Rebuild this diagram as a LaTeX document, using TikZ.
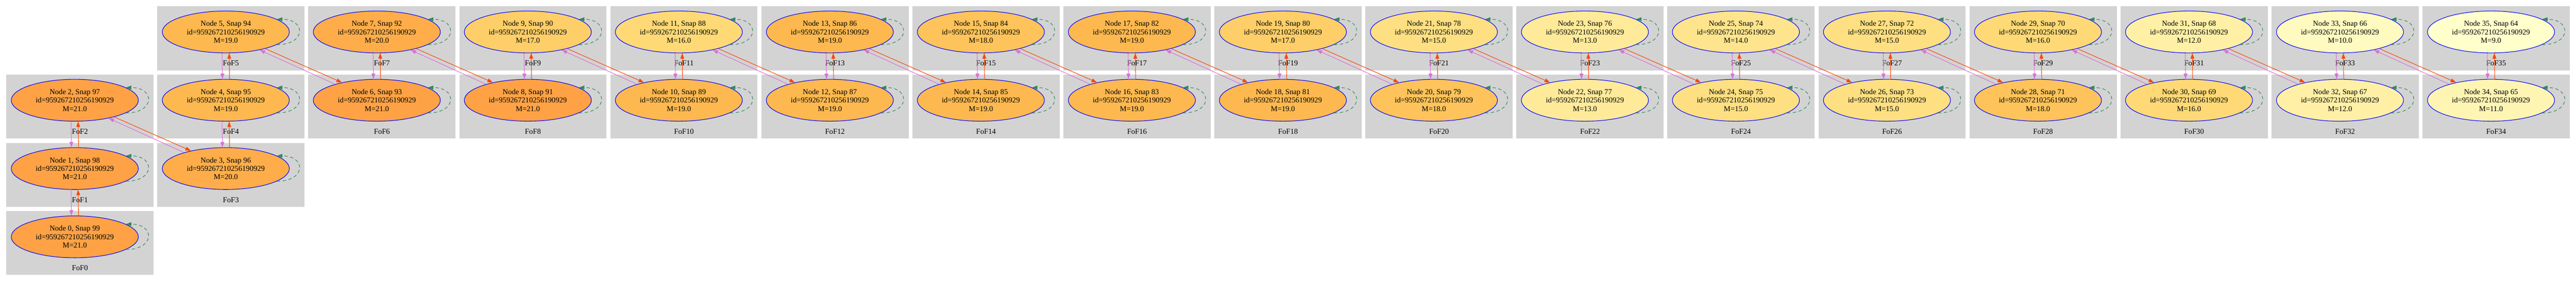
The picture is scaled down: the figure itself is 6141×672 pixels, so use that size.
\documentclass[tikz,border=0pt]{standalone}
\usepackage{fontspec}
\setmainfont{Liberation Serif}
\usetikzlibrary{arrows.meta,shapes.geometric}
\definecolor{fofgrey}{HTML}{D3D3D3}
\definecolor{fwdred}{HTML}{FF4500}
\definecolor{backviolet}{HTML}{DA70D6}
\definecolor{loopgreen}{HTML}{2E8B57}
\definecolor{m9}{HTML}{FFFFCC}
\definecolor{m10}{HTML}{FFFABF}
\definecolor{m11}{HTML}{FFF5B3}
\definecolor{m12}{HTML}{FFF0A6}
\definecolor{m13}{HTML}{FFEA9A}
\definecolor{m14}{HTML}{FFE48E}
\definecolor{m15}{HTML}{FEDF82}
\definecolor{m16}{HTML}{FED976}
\definecolor{m17}{HTML}{FECE68}
\definecolor{m18}{HTML}{FEC35A}
\definecolor{m19}{HTML}{FEB850}
\definecolor{m20}{HTML}{FEAD4A}
\definecolor{m21}{HTML}{FEA245}

\begin{document}
\begin{tikzpicture}[x=1pt,y=1pt,
    fofbox/.style={fill=fofgrey},
    foflabel/.style={inner sep=0pt,font=\fontsize{18}{20}\selectfont},
    fofnode/.style={ellipse,draw=blue,line width=1.3pt,minimum width=303pt,minimum height=100pt,inner sep=0pt,align=center,font=\fontsize{18}{20}\selectfont},
    fwd/.style={draw=fwdred,line width=1.3pt,-{Triangle[length=13pt,width=9pt]}},
    back/.style={draw=backviolet,line width=1.3pt,-{Triangle[length=13pt,width=9pt]}},
    selfloop/.style={draw=loopgreen,line width=1.3pt,dash pattern=on 8pt off 6pt,-{Triangle[length=13pt,width=9pt]}}]
      \useasboundingbox (0,0) rectangle (6141,672);
      \fill[fofbox] (15,16) rectangle (366,168);
      \fill[fofbox] (15,178) rectangle (366,331);
      \fill[fofbox] (15,341) rectangle (366,494);
      \fill[fofbox] (375,178) rectangle (726,331);
      \fill[fofbox] (375,341) rectangle (726,494);
      \fill[fofbox] (375,504) rectangle (726,657);
      \fill[fofbox] (735,341) rectangle (1086,494);
      \fill[fofbox] (735,504) rectangle (1086,657);
      \fill[fofbox] (1095,341) rectangle (1446,494);
      \fill[fofbox] (1095,504) rectangle (1446,657);
      \fill[fofbox] (1455,341) rectangle (1806,494);
      \fill[fofbox] (1455,504) rectangle (1806,657);
      \fill[fofbox] (1815,341) rectangle (2166,494);
      \fill[fofbox] (1815,504) rectangle (2166,657);
      \fill[fofbox] (2175,341) rectangle (2526,494);
      \fill[fofbox] (2175,504) rectangle (2526,657);
      \fill[fofbox] (2535,341) rectangle (2886,494);
      \fill[fofbox] (2535,504) rectangle (2886,657);
      \fill[fofbox] (2895,341) rectangle (3246,494);
      \fill[fofbox] (2895,504) rectangle (3246,657);
      \fill[fofbox] (3255,341) rectangle (3606,494);
      \fill[fofbox] (3255,504) rectangle (3606,657);
      \fill[fofbox] (3615,341) rectangle (3966,494);
      \fill[fofbox] (3615,504) rectangle (3966,657);
      \fill[fofbox] (3975,341) rectangle (4326,494);
      \fill[fofbox] (3975,504) rectangle (4326,657);
      \fill[fofbox] (4335,341) rectangle (4686,494);
      \fill[fofbox] (4335,504) rectangle (4686,657);
      \fill[fofbox] (4695,341) rectangle (5046,494);
      \fill[fofbox] (4695,504) rectangle (5046,657);
      \fill[fofbox] (5055,341) rectangle (5406,494);
      \fill[fofbox] (5055,504) rectangle (5406,657);
      \fill[fofbox] (5415,341) rectangle (5766,494);
      \fill[fofbox] (5415,504) rectangle (5766,657);
      \fill[fofbox] (5775,341) rectangle (6126,494);
      \fill[fofbox] (5775,504) rectangle (6126,657);
      \node[foflabel] (l0) at (190.5,33) {FoF0};
      \node[foflabel] (l1) at (190.5,195) {FoF1};
      \node[foflabel] (l2) at (190.5,358) {FoF2};
      \node[foflabel] (l3) at (550.5,195) {FoF3};
      \node[foflabel] (l4) at (550.5,358) {FoF4};
      \node[foflabel] (l5) at (550.5,521) {FoF5};
      \node[foflabel] (l6) at (910.5,358) {FoF6};
      \node[foflabel] (l7) at (910.5,521) {FoF7};
      \node[foflabel] (l8) at (1270.5,358) {FoF8};
      \node[foflabel] (l9) at (1270.5,521) {FoF9};
      \node[foflabel] (l10) at (1630.5,358) {FoF10};
      \node[foflabel] (l11) at (1630.5,521) {FoF11};
      \node[foflabel] (l12) at (1990.5,358) {FoF12};
      \node[foflabel] (l13) at (1990.5,521) {FoF13};
      \node[foflabel] (l14) at (2350.5,358) {FoF14};
      \node[foflabel] (l15) at (2350.5,521) {FoF15};
      \node[foflabel] (l16) at (2710.5,358) {FoF16};
      \node[foflabel] (l17) at (2710.5,521) {FoF17};
      \node[foflabel] (l18) at (3070.5,358) {FoF18};
      \node[foflabel] (l19) at (3070.5,521) {FoF19};
      \node[foflabel] (l20) at (3430.5,358) {FoF20};
      \node[foflabel] (l21) at (3430.5,521) {FoF21};
      \node[foflabel] (l22) at (3790.5,358) {FoF22};
      \node[foflabel] (l23) at (3790.5,521) {FoF23};
      \node[foflabel] (l24) at (4150.5,358) {FoF24};
      \node[foflabel] (l25) at (4150.5,521) {FoF25};
      \node[foflabel] (l26) at (4510.5,358) {FoF26};
      \node[foflabel] (l27) at (4510.5,521) {FoF27};
      \node[foflabel] (l28) at (4870.5,358) {FoF28};
      \node[foflabel] (l29) at (4870.5,521) {FoF29};
      \node[foflabel] (l30) at (5230.5,358) {FoF30};
      \node[foflabel] (l31) at (5230.5,521) {FoF31};
      \node[foflabel] (l32) at (5590.5,358) {FoF32};
      \node[foflabel] (l33) at (5590.5,521) {FoF33};
      \node[foflabel] (l34) at (5950.5,358) {FoF34};
      \node[foflabel] (l35) at (5950.5,521) {FoF35};
      \node[fofnode,fill=m21] (n0) at (178.3,106.7) {Node 0, Snap 99\\id=959267210256190929\\M=21.0};
      \node[fofnode,fill=m21] (n1) at (178.3,269.7) {Node 1, Snap 98\\id=959267210256190929\\M=21.0};
      \node[fofnode,fill=m21] (n2) at (178.3,432.7) {Node 2, Snap 97\\id=959267210256190929\\M=21.0};
      \node[fofnode,fill=m20] (n3) at (538.3,269.7) {Node 3, Snap 96\\id=959267210256190929\\M=20.0};
      \node[fofnode,fill=m19] (n4) at (538.3,432.7) {Node 4, Snap 95\\id=959267210256190929\\M=19.0};
      \node[fofnode,fill=m19] (n5) at (538.3,595.7) {Node 5, Snap 94\\id=959267210256190929\\M=19.0};
      \node[fofnode,fill=m21] (n6) at (898.3,432.7) {Node 6, Snap 93\\id=959267210256190929\\M=21.0};
      \node[fofnode,fill=m20] (n7) at (898.3,595.7) {Node 7, Snap 92\\id=959267210256190929\\M=20.0};
      \node[fofnode,fill=m21] (n8) at (1258.3,432.7) {Node 8, Snap 91\\id=959267210256190929\\M=21.0};
      \node[fofnode,fill=m17] (n9) at (1258.3,595.7) {Node 9, Snap 90\\id=959267210256190929\\M=17.0};
      \node[fofnode,fill=m19] (n10) at (1618.3,432.7) {Node 10, Snap 89\\id=959267210256190929\\M=19.0};
      \node[fofnode,fill=m16] (n11) at (1618.3,595.7) {Node 11, Snap 88\\id=959267210256190929\\M=16.0};
      \node[fofnode,fill=m19] (n12) at (1978.3,432.7) {Node 12, Snap 87\\id=959267210256190929\\M=19.0};
      \node[fofnode,fill=m19] (n13) at (1978.3,595.7) {Node 13, Snap 86\\id=959267210256190929\\M=19.0};
      \node[fofnode,fill=m19] (n14) at (2338.3,432.7) {Node 14, Snap 85\\id=959267210256190929\\M=19.0};
      \node[fofnode,fill=m18] (n15) at (2338.3,595.7) {Node 15, Snap 84\\id=959267210256190929\\M=18.0};
      \node[fofnode,fill=m19] (n16) at (2698.3,432.7) {Node 16, Snap 83\\id=959267210256190929\\M=19.0};
      \node[fofnode,fill=m19] (n17) at (2698.3,595.7) {Node 17, Snap 82\\id=959267210256190929\\M=19.0};
      \node[fofnode,fill=m19] (n18) at (3058.3,432.7) {Node 18, Snap 81\\id=959267210256190929\\M=19.0};
      \node[fofnode,fill=m17] (n19) at (3058.3,595.7) {Node 19, Snap 80\\id=959267210256190929\\M=17.0};
      \node[fofnode,fill=m18] (n20) at (3418.3,432.7) {Node 20, Snap 79\\id=959267210256190929\\M=18.0};
      \node[fofnode,fill=m15] (n21) at (3418.3,595.7) {Node 21, Snap 78\\id=959267210256190929\\M=15.0};
      \node[fofnode,fill=m13] (n22) at (3778.3,432.7) {Node 22, Snap 77\\id=959267210256190929\\M=13.0};
      \node[fofnode,fill=m13] (n23) at (3778.3,595.7) {Node 23, Snap 76\\id=959267210256190929\\M=13.0};
      \node[fofnode,fill=m15] (n24) at (4138.3,432.7) {Node 24, Snap 75\\id=959267210256190929\\M=15.0};
      \node[fofnode,fill=m14] (n25) at (4138.3,595.7) {Node 25, Snap 74\\id=959267210256190929\\M=14.0};
      \node[fofnode,fill=m15] (n26) at (4498.3,432.7) {Node 26, Snap 73\\id=959267210256190929\\M=15.0};
      \node[fofnode,fill=m15] (n27) at (4498.3,595.7) {Node 27, Snap 72\\id=959267210256190929\\M=15.0};
      \node[fofnode,fill=m18] (n28) at (4858.3,432.7) {Node 28, Snap 71\\id=959267210256190929\\M=18.0};
      \node[fofnode,fill=m16] (n29) at (4858.3,595.7) {Node 29, Snap 70\\id=959267210256190929\\M=16.0};
      \node[fofnode,fill=m16] (n30) at (5218.3,432.7) {Node 30, Snap 69\\id=959267210256190929\\M=16.0};
      \node[fofnode,fill=m12] (n31) at (5218.3,595.7) {Node 31, Snap 68\\id=959267210256190929\\M=12.0};
      \node[fofnode,fill=m12] (n32) at (5578.3,432.7) {Node 32, Snap 67\\id=959267210256190929\\M=12.0};
      \node[fofnode,fill=m10] (n33) at (5578.3,595.7) {Node 33, Snap 66\\id=959267210256190929\\M=10.0};
      \node[fofnode,fill=m11] (n34) at (5938.3,432.7) {Node 34, Snap 65\\id=959267210256190929\\M=11.0};
      \node[fofnode,fill=m9] (n35) at (5938.3,595.7) {Node 35, Snap 64\\id=959267210256190929\\M=9.0};
      \draw[selfloop] (n0.-14) .. controls +(70,0) and +(70,0) .. (n0.14);
      \draw[selfloop] (n1.-14) .. controls +(70,0) and +(70,0) .. (n1.14);
      \draw[selfloop] (n2.-14) .. controls +(70,0) and +(70,0) .. (n2.14);
      \draw[selfloop] (n3.-14) .. controls +(70,0) and +(70,0) .. (n3.14);
      \draw[selfloop] (n4.-14) .. controls +(70,0) and +(70,0) .. (n4.14);
      \draw[selfloop] (n5.-14) .. controls +(70,0) and +(70,0) .. (n5.14);
      \draw[selfloop] (n6.-14) .. controls +(70,0) and +(70,0) .. (n6.14);
      \draw[selfloop] (n7.-14) .. controls +(70,0) and +(70,0) .. (n7.14);
      \draw[selfloop] (n8.-14) .. controls +(70,0) and +(70,0) .. (n8.14);
      \draw[selfloop] (n9.-14) .. controls +(70,0) and +(70,0) .. (n9.14);
      \draw[selfloop] (n10.-14) .. controls +(70,0) and +(70,0) .. (n10.14);
      \draw[selfloop] (n11.-14) .. controls +(70,0) and +(70,0) .. (n11.14);
      \draw[selfloop] (n12.-14) .. controls +(70,0) and +(70,0) .. (n12.14);
      \draw[selfloop] (n13.-14) .. controls +(70,0) and +(70,0) .. (n13.14);
      \draw[selfloop] (n14.-14) .. controls +(70,0) and +(70,0) .. (n14.14);
      \draw[selfloop] (n15.-14) .. controls +(70,0) and +(70,0) .. (n15.14);
      \draw[selfloop] (n16.-14) .. controls +(70,0) and +(70,0) .. (n16.14);
      \draw[selfloop] (n17.-14) .. controls +(70,0) and +(70,0) .. (n17.14);
      \draw[selfloop] (n18.-14) .. controls +(70,0) and +(70,0) .. (n18.14);
      \draw[selfloop] (n19.-14) .. controls +(70,0) and +(70,0) .. (n19.14);
      \draw[selfloop] (n20.-14) .. controls +(70,0) and +(70,0) .. (n20.14);
      \draw[selfloop] (n21.-14) .. controls +(70,0) and +(70,0) .. (n21.14);
      \draw[selfloop] (n22.-14) .. controls +(70,0) and +(70,0) .. (n22.14);
      \draw[selfloop] (n23.-14) .. controls +(70,0) and +(70,0) .. (n23.14);
      \draw[selfloop] (n24.-14) .. controls +(70,0) and +(70,0) .. (n24.14);
      \draw[selfloop] (n25.-14) .. controls +(70,0) and +(70,0) .. (n25.14);
      \draw[selfloop] (n26.-14) .. controls +(70,0) and +(70,0) .. (n26.14);
      \draw[selfloop] (n27.-14) .. controls +(70,0) and +(70,0) .. (n27.14);
      \draw[selfloop] (n28.-14) .. controls +(70,0) and +(70,0) .. (n28.14);
      \draw[selfloop] (n29.-14) .. controls +(70,0) and +(70,0) .. (n29.14);
      \draw[selfloop] (n30.-14) .. controls +(70,0) and +(70,0) .. (n30.14);
      \draw[selfloop] (n31.-14) .. controls +(70,0) and +(70,0) .. (n31.14);
      \draw[selfloop] (n32.-14) .. controls +(70,0) and +(70,0) .. (n32.14);
      \draw[selfloop] (n33.-14) .. controls +(70,0) and +(70,0) .. (n33.14);
      \draw[selfloop] (n34.-14) .. controls +(70,0) and +(70,0) .. (n34.14);
      \draw[selfloop] (n35.-14) .. controls +(70,0) and +(70,0) .. (n35.14);
      \draw[fwd](n0.80.1)--(n1.279.9);
      \draw[back](n1.260.6)--(n0.99.4);
      \draw[fwd](n1.80.1)--(n2.279.9);
      \draw[back](n2.260.6)--(n1.99.4);
      \draw[fwd](n2.-23.2)--(n3.153.9);
      \draw[back](n3.159.5)--(n2.-28.2);
      \draw[fwd](n3.80.1)--(n4.279.9);
      \draw[back](n4.260.6)--(n3.99.4);
      \draw[fwd](n4.80.1)--(n5.279.9);
      \draw[back](n5.260.6)--(n4.99.4);
      \draw[fwd](n5.-23.2)--(n6.153.9);
      \draw[back](n6.159.5)--(n5.-28.2);
      \draw[fwd](n6.80.1)--(n7.279.9);
      \draw[back](n7.260.6)--(n6.99.4);
      \draw[fwd](n7.-23.2)--(n8.153.9);
      \draw[back](n8.159.5)--(n7.-28.2);
      \draw[fwd](n8.80.1)--(n9.279.9);
      \draw[back](n9.260.6)--(n8.99.4);
      \draw[fwd](n9.-23.2)--(n10.153.9);
      \draw[back](n10.159.5)--(n9.-28.2);
      \draw[fwd](n10.80.1)--(n11.279.9);
      \draw[back](n11.260.6)--(n10.99.4);
      \draw[fwd](n11.-23.2)--(n12.153.9);
      \draw[back](n12.159.5)--(n11.-28.2);
      \draw[fwd](n12.80.1)--(n13.279.9);
      \draw[back](n13.260.6)--(n12.99.4);
      \draw[fwd](n13.-23.2)--(n14.153.9);
      \draw[back](n14.159.5)--(n13.-28.2);
      \draw[fwd](n14.80.1)--(n15.279.9);
      \draw[back](n15.260.6)--(n14.99.4);
      \draw[fwd](n15.-23.2)--(n16.153.9);
      \draw[back](n16.159.5)--(n15.-28.2);
      \draw[fwd](n16.80.1)--(n17.279.9);
      \draw[back](n17.260.6)--(n16.99.4);
      \draw[fwd](n17.-23.2)--(n18.153.9);
      \draw[back](n18.159.5)--(n17.-28.2);
      \draw[fwd](n18.80.1)--(n19.279.9);
      \draw[back](n19.260.6)--(n18.99.4);
      \draw[fwd](n19.-23.2)--(n20.153.9);
      \draw[back](n20.159.5)--(n19.-28.2);
      \draw[fwd](n20.80.1)--(n21.279.9);
      \draw[back](n21.260.6)--(n20.99.4);
      \draw[fwd](n21.-23.2)--(n22.153.9);
      \draw[back](n22.159.5)--(n21.-28.2);
      \draw[fwd](n22.80.1)--(n23.279.9);
      \draw[back](n23.260.6)--(n22.99.4);
      \draw[fwd](n23.-23.2)--(n24.153.9);
      \draw[back](n24.159.5)--(n23.-28.2);
      \draw[fwd](n24.80.1)--(n25.279.9);
      \draw[back](n25.260.6)--(n24.99.4);
      \draw[fwd](n25.-23.2)--(n26.153.9);
      \draw[back](n26.159.5)--(n25.-28.2);
      \draw[fwd](n26.80.1)--(n27.279.9);
      \draw[back](n27.260.6)--(n26.99.4);
      \draw[fwd](n27.-23.2)--(n28.153.9);
      \draw[back](n28.159.5)--(n27.-28.2);
      \draw[fwd](n28.80.1)--(n29.279.9);
      \draw[back](n29.260.6)--(n28.99.4);
      \draw[fwd](n29.-23.2)--(n30.153.9);
      \draw[back](n30.159.5)--(n29.-28.2);
      \draw[fwd](n30.80.1)--(n31.279.9);
      \draw[back](n31.260.6)--(n30.99.4);
      \draw[fwd](n31.-23.2)--(n32.153.9);
      \draw[back](n32.159.5)--(n31.-28.2);
      \draw[fwd](n32.80.1)--(n33.279.9);
      \draw[back](n33.260.6)--(n32.99.4);
      \draw[fwd](n33.-23.2)--(n34.153.9);
      \draw[back](n34.159.5)--(n33.-28.2);
      \draw[fwd](n34.80.1)--(n35.279.9);
      \draw[back](n35.260.6)--(n34.99.4);
\end{tikzpicture}
\end{document}
